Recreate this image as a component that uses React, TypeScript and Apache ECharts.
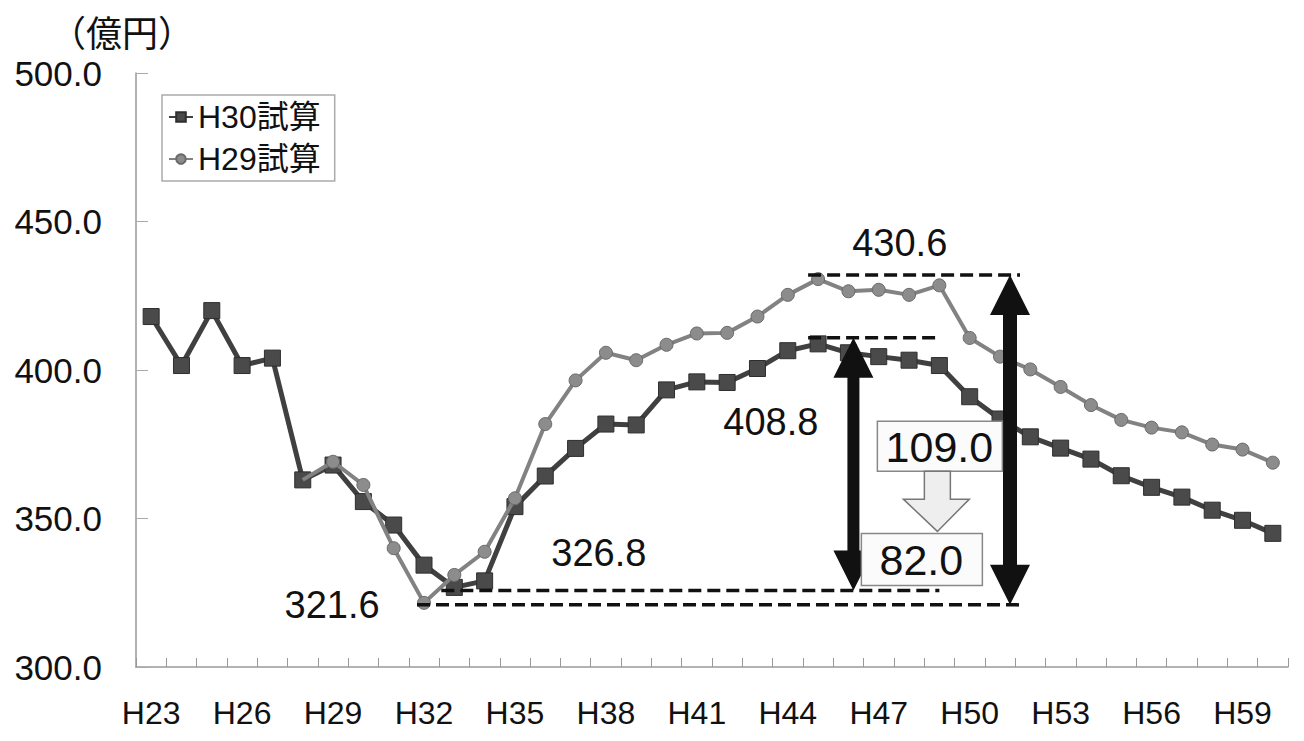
import React, { useEffect, useRef } from 'react';
import * as echarts from 'echarts';

const categories = [
  'H23', 'H24', 'H25', 'H26', 'H27', 'H28', 'H29', 'H30', 'H31', 'H32',
  'H33', 'H34', 'H35', 'H36', 'H37', 'H38', 'H39', 'H40', 'H41', 'H42',
  'H43', 'H44', 'H45', 'H46', 'H47', 'H48', 'H49', 'H50', 'H51', 'H52',
  'H53', 'H54', 'H55', 'H56', 'H57', 'H58', 'H59', 'H60',
];

// H30試算 (dark squares)
const h30Values = [
  418.0, 401.5, 420.0, 401.5, 404.0, 363.0, 368.0, 355.7, 347.8, 334.3,
  326.8, 329.0, 354.0, 364.3, 373.6, 381.8, 381.5, 393.3, 396.0, 395.8,
  400.5, 406.5, 408.8, 405.8, 404.5, 403.3, 401.5, 391.0, 383.5, 377.5,
  373.7, 370.0, 364.4, 360.5, 357.2, 352.8, 349.4, 345.0,
];

// H29試算 (gray circles), drawn from H28 onwards
const h29Values = [
  null, null, null, null, null, 363.0, 369.1, 361.3, 340.0, 321.6,
  331.0, 338.8, 356.8, 381.8, 396.5, 405.8, 403.3, 408.5, 412.3, 412.5,
  418.0, 425.3, 430.6, 426.5, 427.0, 425.3, 428.5, 410.8, 404.5, 400.2,
  394.3, 388.2, 383.2, 380.6, 379.0, 374.9, 373.2, 368.8,
];

const yMin = 300;
const yMax = 500;
const yInterval = 50;

const h29MinValue = 321.6;
const h29MaxValue = 430.6;
const h30MinValue = 326.8;
const h30MaxValue = 408.8;
const h29GapLabel = '109.0';
const h30GapLabel = '82.0';

const FONT = "'Liberation Sans', 'Noto Sans CJK JP', sans-serif";

function dblArrow(x: number, yTop: number, yBot: number, sw: number, hw: number, hl: number) {
  return [
    [x, yTop], [x + hw, yTop + hl], [x + sw, yTop + hl], [x + sw, yBot - hl],
    [x + hw, yBot - hl], [x, yBot], [x - hw, yBot - hl], [x - sw, yBot - hl],
    [x - sw, yTop + hl], [x - hw, yTop + hl],
  ];
}

export default function App() {
  const ref = useRef<HTMLDivElement>(null);

  useEffect(() => {
    if (!ref.current) return;
    const chart = echarts.init(ref.current, null, { renderer: 'svg' });
    const h29Data = h29Values.map((v, i) =>
      v === null ? null : i === 5 ? { value: v, symbol: 'none' } : v
    );
    chart.setOption({
      animation: false,
      backgroundColor: '#ffffff',
      grid: { left: 136, right: 16, top: 73, bottom: 74 },
      legend: {
        orient: 'vertical',
        left: 162,
        top: 95,
        data: ['H30試算', 'H29試算'],
        borderColor: '#aaaaaa',
        borderWidth: 1.5,
        padding: [6, 14, 6, 6],
        itemGap: 10,
        itemWidth: 24,
        itemHeight: 12,
        textStyle: { fontSize: 32, color: '#111', fontFamily: FONT },
      },
      xAxis: {
        type: 'category',
        data: categories,
        boundaryGap: true,
        axisLine: { lineStyle: { color: '#999', width: 1.5 } },
        axisTick: { show: true, inside: true, length: 9, interval: 0, lineStyle: { color: '#999' } },
        axisLabel: { interval: 2, fontSize: 32, color: '#111', margin: 30, fontFamily: FONT },
        splitLine: { show: false },
      },
      yAxis: {
        type: 'value',
        min: yMin,
        max: yMax,
        interval: yInterval,
        axisLine: { show: true, lineStyle: { color: '#999', width: 1.5 } },
        axisTick: { show: true, inside: true, length: 12, lineStyle: { color: '#aaa' } },
        axisLabel: {
          fontSize: 35, color: '#111', margin: 34, fontFamily: FONT,
          formatter: (v: number) => v.toFixed(1),
        },
        splitLine: { show: false },
      },
      series: [
        {
          name: 'H30試算',
          type: 'line',
          data: h30Values,
          symbol: 'rect',
          symbolSize: 16,
          lineStyle: { color: '#404040', width: 5 },
          itemStyle: { color: '#4a4a4a', borderColor: '#2e2e2e', borderWidth: 1 },
          z: 2,
        },
        {
          name: 'H29試算',
          type: 'line',
          data: h29Data,
          symbol: 'circle',
          symbolSize: 13,
          lineStyle: { color: '#828282', width: 4 },
          itemStyle: { color: '#8c8c8c', borderColor: '#6a6a6a', borderWidth: 1 },
          z: 3,
        },
      ],
    });

    const px = (i: number, v: number) => {
      const a = chart.convertToPixel({ xAxisIndex: 0, yAxisIndex: 0 }, [Math.floor(i), v]) as number[];
      const b = chart.convertToPixel({ xAxisIndex: 0, yAxisIndex: 0 }, [Math.floor(i) + 1, v]) as number[];
      const f = i - Math.floor(i);
      return [a[0] + (b[0] - a[0]) * f, a[1]];
    };
    const cx = (i: number) => px(i, yMin)[0];
    const cy = (v: number) => px(0, v)[1];

    const leftX = cx(23) + 5;
    const rightX = cx(28) + 10;
    const dash = { stroke: '#111', lineWidth: 3.5, lineDash: [13, 6] };
    const yTop1 = cy(h29MaxValue) - 4;
    const yTop2 = cy(h30MaxValue) - 6;
    const yBot1 = cy(h29MinValue) + 2;
    const yBot2 = cy(h30MinValue) + 3;
    const textStyle = (size: number) => ({
      fill: '#111', fontSize: size, fontFamily: FONT, align: 'center', verticalAlign: 'middle',
    });

    const box1Cx = cx(26);
    const box1Cy = (yTop2 + yBot2) / 2 - 18;
    const box2Cx = cx(26) - 18;
    const box2Cy = yBot2 - 31;
    const b1Bottom = box1Cy + 25;
    const b2Top = box2Cy - 26;
    const arrowCx = box1Cx - 2;

    chart.setOption({
      graphic: [
        { type: 'line', shape: { x1: cx(22) - 10, y1: yTop1, x2: rightX + 10, y2: yTop1 }, style: dash, z: 10 },
        { type: 'line', shape: { x1: cx(22) - 10, y1: yTop2, x2: cx(26), y2: yTop2 }, style: dash, z: 10 },
        { type: 'line', shape: { x1: cx(10) - 13, y1: yBot2, x2: cx(26), y2: yBot2 }, style: dash, z: 10 },
        { type: 'line', shape: { x1: cx(9) - 7, y1: yBot1, x2: rightX + 15, y2: yBot1 }, style: dash, z: 10 },
        { type: 'polygon', shape: { points: dblArrow(leftX, yTop2, yBot2, 6, 20, 40) }, style: { fill: '#111' }, z: 11 },
        { type: 'polygon', shape: { points: dblArrow(rightX, yTop1, yBot1, 7, 20, 40) }, style: { fill: '#111' }, z: 11 },
        {
          type: 'rect', shape: { x: box1Cx - 62, y: box1Cy - 25, width: 125, height: 50 },
          style: { fill: '#fbfbfb', stroke: '#888', lineWidth: 1.5 }, z: 12,
        },
        { type: 'text', x: box1Cx, y: box1Cy + 1, style: { text: h29GapLabel, ...textStyle(43) }, z: 13 },
        {
          type: 'polygon',
          shape: {
            points: [
              [arrowCx - 13, b1Bottom], [arrowCx + 13, b1Bottom], [arrowCx + 13, b1Bottom + 28],
              [arrowCx + 32, b1Bottom + 28], [arrowCx, b2Top - 2], [arrowCx - 34, b1Bottom + 28],
              [arrowCx - 13, b1Bottom + 28],
            ],
          },
          style: { fill: '#eeeeee', stroke: '#777', lineWidth: 1.5 }, z: 12,
        },
        {
          type: 'rect', shape: { x: box2Cx - 60, y: box2Cy - 26, width: 121, height: 52 },
          style: { fill: '#fbfbfb', stroke: '#888', lineWidth: 1.5 }, z: 12,
        },
        { type: 'text', x: box2Cx, y: box2Cy + 1, style: { text: h30GapLabel, ...textStyle(43) }, z: 13 },
        { type: 'text', x: cx(24) + 21, y: yTop1 - 32, style: { text: h29MaxValue.toFixed(1), ...textStyle(38) }, z: 13 },
        { type: 'text', x: cx(21) - 17, y: yTop2 + 84, style: { text: h30MaxValue.toFixed(1), ...textStyle(38) }, z: 13 },
        { type: 'text', x: cx(15) - 7, y: yBot2 - 37, style: { text: h30MinValue.toFixed(1), ...textStyle(38) }, z: 13 },
        { type: 'text', x: cx(6) - 1, y: yBot1, style: { text: h29MinValue.toFixed(1), ...textStyle(38) }, z: 13 },
        {
          type: 'text', left: 50, top: 16,
          style: { text: '（億円）', fill: '#111', fontSize: 36, fontFamily: FONT },
          z: 13,
        },
      ],
    });

    return () => chart.dispose();
  }, []);

  return (
    <div
      ref={ref}
      style={{ position: 'fixed', left: 0, top: 0, width: 1304, height: 741, background: '#fff' }}
    />
  );
}
